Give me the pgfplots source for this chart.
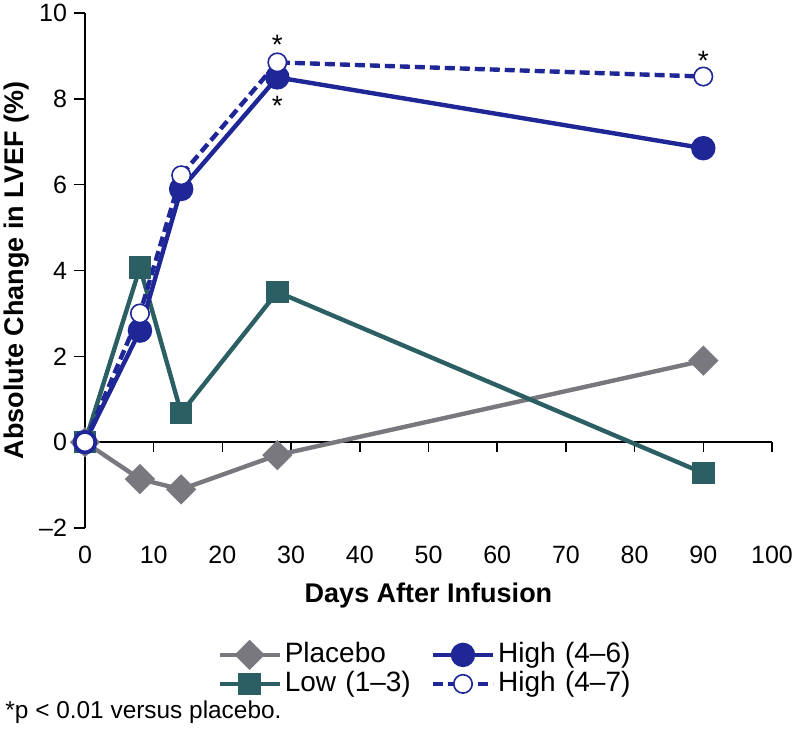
\documentclass[border=0pt]{standalone}
\usepackage{fontspec}
\setmainfont{Liberation Sans}
\usepackage{pgfplots}
\pgfplotsset{compat=1.18}
\definecolor{cgray}{RGB}{121,120,126}
\definecolor{cteal}{RGB}{44,95,99}
\definecolor{cblue}{RGB}{31,39,150}
\begin{document}
\begin{tikzpicture}
\path[use as bounding box] (-42.5pt,-104pt) rectangle (356pt,264pt);
\begin{axis}[
  at={(0,0)}, anchor=south west,
  scale only axis, width=343.5pt, height=257.5pt,
  xmin=0, xmax=100, ymin=-2, ymax=10,
  clip=false,
  axis y line=left, axis x line=bottom,
  x axis line style={draw=none},
  y axis line style={-, line width=0.75pt},
  xtick={0,10,...,100}, xticklabels={0,10,20,30,40,50,60,70,80,90,100},
  ytick={-2,0,...,10}, yticklabels={–2,0,2,4,6,8,10},
  xtick style={draw=none},
  ytick style={line width=0.75pt, black},
  tick align=outside, major tick length=5.5pt,
  ticklabel style={font=\fontsize{12.5}{15}\selectfont},
  xlabel={Days After Infusion}, ylabel={Absolute Change in LVEF (\%)},
  label style={font=\fontsize{13.5}{16}\selectfont\bfseries},
  xlabel style={at={(axis description cs:0.5,-0.131)}, anchor=center},
  ylabel style={at={(axis description cs:-0.099,0.5)}, anchor=center},
  legend columns=2, transpose legend, legend cell align=left,
  legend style={draw=none, fill=none, inner sep=0pt,
    at={(axis description cs:0.1921,-0.2155)}, anchor=north west,
    nodes={font=\fontsize{14}{16}\selectfont, inner sep=1pt, text height=10.5pt, text depth=3pt, text width=72pt},
    /tikz/every odd column/.style={column sep=0.5pt},
    /tikz/every even column/.style={column sep=0pt},
    row sep=-1pt},
  legend image code/.code={\draw[mark repeat=2, mark phase=2, #1] plot coordinates {(0pt,0pt) (15pt,0pt) (30pt,0pt)};},
]
\draw[line width=0.75pt] (axis cs:0,0) -- (axis cs:100,0);
\pgfplotsinvokeforeach{10,20,30,40,50,60,70,80,90,100}{\draw[line width=0.75pt] (axis cs:#1,0) -- ([yshift=-5pt]axis cs:#1,0);}

\addplot[cgray, line width=2.2pt, mark=square*, mark size=4.25pt, mark options={rotate=45, solid, fill=cgray}]
  coordinates {(0,0) (8,-0.86) (14,-1.1) (28,-0.3) (90,1.9)};
\addlegendentry{Placebo}
\addplot[cteal, line width=2.2pt, mark=square*, mark size=4.5pt, mark options={solid, fill=cteal}]
  coordinates {(0,0) (8,4.07) (14,0.68) (28,3.5) (90,-0.72)};
\addlegendentry{Low (1–3)}
\addplot[cblue, line width=2.2pt, mark=*, mark size=5pt, mark options={solid, fill=cblue}]
  coordinates {(0,0) (8,2.6) (14,5.9) (28,8.5) (90,6.85)};
\addlegendentry{High (4–6)}
\addplot[cblue, line width=2.2pt, dash pattern=on 5pt off 2.5pt, mark=*, mark size=4.6pt, mark options={solid, fill=white, line width=0.8pt}]
  coordinates {(0,0) (8,3.0) (14,6.22) (28,8.85) (90,8.52)};
\addlegendentry{High (4–7)}

\node[font=\fontsize{14}{16}\selectfont, inner sep=0pt] at (axis cs:28,9.25) {*};
\node[font=\fontsize{14}{16}\selectfont, inner sep=0pt] at (axis cs:28,7.84) {*};
\node[font=\fontsize{14}{16}\selectfont, inner sep=0pt] at (axis cs:90,8.88) {*};
\node[anchor=base west, inner sep=0pt, font=\fontsize{12.2}{14}\selectfont] at (axis description cs:-0.1164,-0.3705) {*p < 0.01 versus placebo.};
\end{axis}
\end{tikzpicture}
\end{document}
